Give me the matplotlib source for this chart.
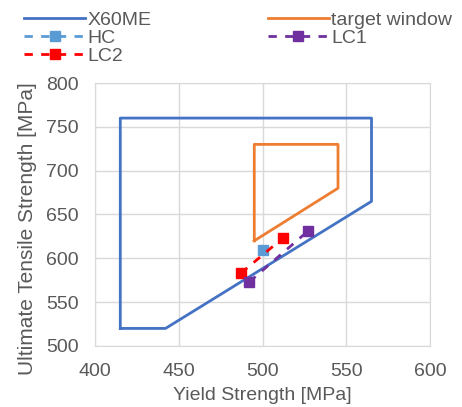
import matplotlib
matplotlib.use("Agg")
import matplotlib.pyplot as plt

plt.rcParams['font.family'] = ['Liberation Sans', 'DejaVu Sans']

# X60ME property window (yield, tensile)
x60_ys = [415, 415, 565, 565, 442, 415]
x60_uts = [520, 760, 760, 665, 520, 520]

# target window
tw_ys = [495, 495, 545, 545, 495]
tw_uts = [620, 730, 730, 680, 620]

# measured points
hc_ys = [500]
hc_uts = [609]
lc1_ys = [492, 527]
lc1_uts = [573, 631]
lc2_ys = [487, 512]
lc2_uts = [583, 623]

grey = "#595959"

fig = plt.figure(figsize=(4.62, 4.07), dpi=100)
ax = fig.add_axes([0.206, 0.150, 0.725, 0.646])

ax.plot(x60_ys, x60_uts, color="#4472C4", lw=2, label="X60ME")
ax.plot(hc_ys, hc_uts, color="#5B9BD5", lw=2, ls=(0, (3, 3)), marker="s", ms=7, label="HC")
ax.plot(lc2_ys, lc2_uts, color="#FF0000", lw=2, ls=(0, (3, 3)), marker="s", ms=7, label="LC2")
ax.plot(tw_ys, tw_uts, color="#ED7D31", lw=2, label="target window")
ax.plot(lc1_ys, lc1_uts, color="#7030A0", lw=2, ls=(0, (3, 3)), marker="s", ms=7, label="LC1")

ax.set_xlim(400, 600)
ax.set_ylim(500, 800)
ax.set_xticks(range(400, 601, 50))
ax.set_yticks(range(500, 801, 50))
ax.grid(True, color="#D9D9D9", lw=1)
ax.set_axisbelow(True)
for s in ax.spines.values():
    s.set_color("#D9D9D9")
ax.tick_params(length=0, labelsize=14, colors=grey, pad=12)
ax.set_xlabel("Yield Strength [MPa]", fontsize=14, color=grey, labelpad=5)
ax.set_ylabel("Ultimate Tensile Strength [MPa]", fontsize=15, color=grey)
ax.yaxis.set_label_coords(-0.175, 0.445)

fig.legend(loc="upper left", bbox_to_anchor=(0.015, 1.015), ncol=2, frameon=False,
           fontsize=14, labelcolor=grey, handlelength=3.1, handletextpad=0.15,
           labelspacing=0.02, columnspacing=6.0)

fig.savefig("out.png", dpi=100)
